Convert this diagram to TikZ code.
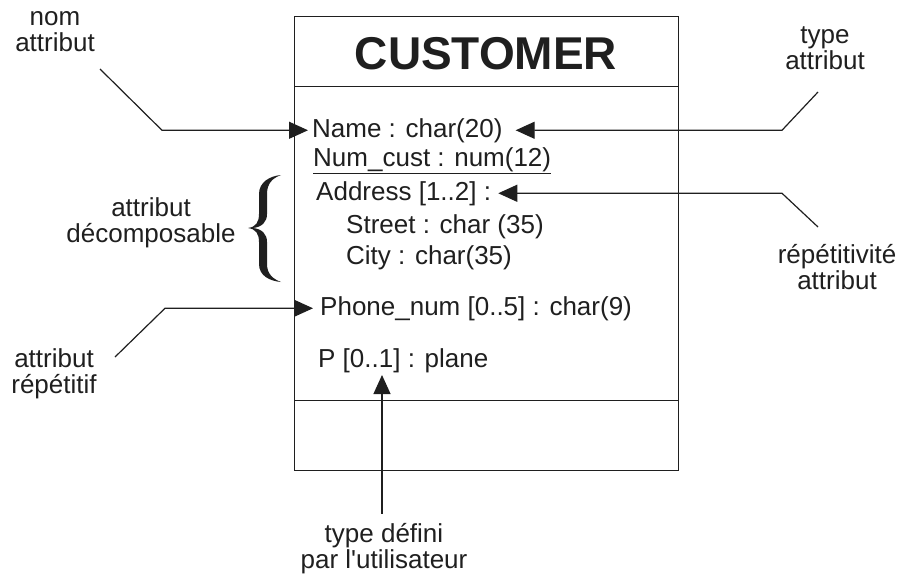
\documentclass[tikz,border=0pt]{standalone}
\usepackage{fontspec}
\setmainfont{Liberation Sans}
\usetikzlibrary{arrows.meta}
\definecolor{ink}{gray}{0.12}
\begin{document}
\begin{tikzpicture}[x=1pt,y=-1pt,
  every node/.style={text=ink},
  box/.style={draw=ink, line width=1.4pt, inner sep=0pt, anchor=north west, minimum width=384pt},
  lbl/.style={font=\fontsize{26}{26}\selectfont, align=center, inner sep=0pt, anchor=base},
  attr/.style={font=\fontsize{26}{26}\selectfont, inner sep=0pt, anchor=base west},
  lead/.style={draw=ink, line width=1.2pt},
  tip/.style={-{Triangle[length=19pt,width=17pt]}}]
\useasboundingbox (0,0) rectangle (902,578);

% class box: header, attributes, operations
\node[box, minimum height=70pt]  (head) at (294,16)  {};
\node[box, minimum height=314pt] (body) at (294,86)  {};
\node[box, minimum height=70pt]  (foot) at (294,400) {};
\node[font=\bfseries\fontsize{46}{46}\selectfont, inner sep=0pt, anchor=base] (title) at (486,70) {CUSTOMER};

% attributes
\node[attr] (name)   at (312,137) {Name : char(20)};
\node[attr] (numc)   at (313,166) {\underline{Num\_cust : num(12)}};
\node[attr] (addr)   at (316,200) {Address [1..2] :};
\node[attr] (street) at (346,233) {Street : char (35)};
\node[attr] (city)   at (346,264) {City : char(35)};
\node[attr] (phone)  at (320,315) {Phone\_num [0..5] : char(9)};
\node[attr] (plane)  at (318,367) {P [0..1] : plane};

% annotations (anchored on the baseline of their last line)
\node[lbl] (nomlbl)  at (55,52)   {nom\\attribut};
\node[lbl] (typlbl)  at (825,70)  {type\\attribut};
\node[lbl] (declbl)  at (151,242) {attribut\\décomposable};
\node[lbl] (replbl)  at (837,289) {répétitivité\\attribut};
\node[lbl] (rpflbl)  at (54,393)  {attribut\\répétitif};
\node[lbl] (usrlbl)  at (384,568) {type défini\\par l\textquotesingle utilisateur};

% leader ends near the annotations
\coordinate (nomA) at (100,69);
\coordinate (typA) at (818,92);
\coordinate (repA) at (818,227);
\coordinate (phA)  at (115,357);
\coordinate (usrT) at (382,375);

\draw[lead,tip] (nomA) -- ([xshift=62pt]nomA |- name.west) -- ([xshift=-4pt]name.west);
\draw[lead,tip] (typA) -- ([xshift=-36pt]typA |- name.east) -- ([xshift=13pt]name.east);
\draw[lead,tip] (repA) -- ([xshift=-36pt]repA |- addr.east) -- ([xshift=7pt]addr.east);
\draw[lead,tip] (phA) -- ([xshift=50pt]phA |- phone.west) -- ([xshift=-7pt]phone.west);
\draw[lead,tip,shorten <=9pt] (usrT |- usrlbl.north) -- (usrT);

% curly brace grouping the address components
\fill[ink] (281,175) .. controls (270,176) and (259,182) .. (259,194) -- (259,214)
  .. controls (259,222) and (256,227) .. (248,228)
  .. controls (256,229) and (259,234) .. (259,242) -- (259,264)
  .. controls (259,276) and (270,281) .. (281,282)
  .. controls (273,279) and (267,274) .. (267,264) -- (267,242)
  .. controls (267,234) and (262,229) .. (253,228)
  .. controls (262,227) and (267,222) .. (267,214) -- (267,194)
  .. controls (267,183) and (273,178) .. (281,175) -- cycle;
\end{tikzpicture}
\end{document}
